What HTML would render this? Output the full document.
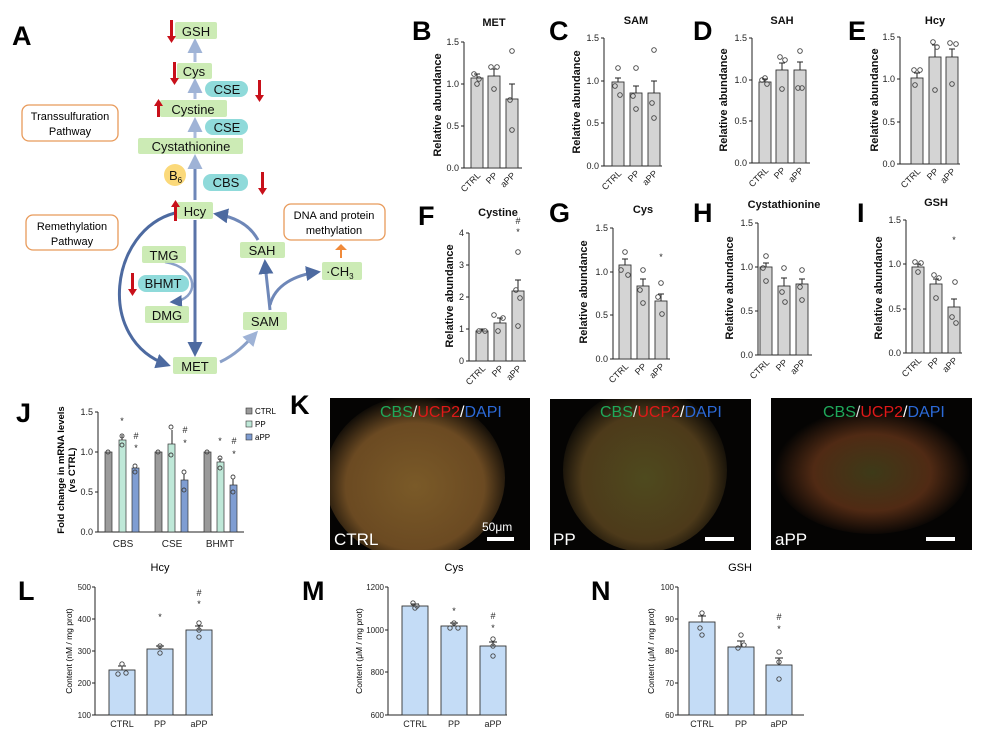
<!DOCTYPE html><html><head><meta charset="utf-8"><style>
body{margin:0;background:#fff}
svg{display:block;font-family:"Liberation Sans",sans-serif}
.t{font-size:9px;fill:#222}
.yl{font-size:11px;font-weight:bold;fill:#111}
.ti{font-size:11px;font-weight:bold;fill:#111}
.L{font-size:27px;font-weight:bold;fill:#000}
.bar{fill:#d4d4d4;stroke:#333;stroke-width:.9}
.ax{stroke:#222;stroke-width:1;fill:none}
.d{fill:none;stroke:#444;stroke-width:.9}
.gb{fill:#c3e8a8;opacity:.85}
.cb{fill:#8fdada}
.nd{font-size:13px;fill:#111}
.bb{fill:#c4dcf6;stroke:#333;stroke-width:.9}
</style></head><body>
<svg width="984" height="733" viewBox="0 0 984 733">
<defs>
<marker id="ah" viewBox="0 0 10 10" refX="8" refY="5" markerWidth="5" markerHeight="5" orient="auto"><path d="M0,0L10,5L0,10z" fill="#4d6aa0"/></marker>
<marker id="ahl" viewBox="0 0 10 10" refX="8" refY="5" markerWidth="5" markerHeight="5" orient="auto"><path d="M0,0L10,5L0,10z" fill="#9fb3d6"/></marker>
<radialGradient id="k1" cx="50%" cy="55%" r="55%"><stop offset="0" stop-color="#7a5a28"/><stop offset=".7" stop-color="#6b4a22"/><stop offset="1" stop-color="#0a0805"/></radialGradient>
<radialGradient id="k2" cx="50%" cy="55%" r="55%"><stop offset="0" stop-color="#4e4a1e"/><stop offset=".7" stop-color="#4d3a1a"/><stop offset="1" stop-color="#070604"/></radialGradient>
<radialGradient id="k3" cx="50%" cy="52%" r="50%"><stop offset="0" stop-color="#3d3a18"/><stop offset=".6" stop-color="#502a14"/><stop offset="1" stop-color="#050403"/></radialGradient>
<clipPath id="c1"><rect x="330" y="398" width="200" height="152"/></clipPath>
<clipPath id="c2"><rect x="550" y="399" width="201" height="151"/></clipPath>
<clipPath id="c3"><rect x="771" y="398" width="201" height="152"/></clipPath>
</defs>

<!-- Panel A -->
<text x="12" y="45" class="L">A</text>
<rect x="22" y="105" width="96" height="36" rx="7" fill="#fff" stroke="#e89a5a" stroke-width="1.3"/>
<text x="70" y="120" text-anchor="middle" style="font-size:11px">Transsulfuration</text>
<text x="70" y="135" text-anchor="middle" style="font-size:11px">Pathway</text>
<rect x="26" y="215" width="92" height="35" rx="7" fill="#fff" stroke="#e89a5a" stroke-width="1.3"/>
<text x="72" y="230" text-anchor="middle" style="font-size:11px">Remethylation</text>
<text x="72" y="245" text-anchor="middle" style="font-size:11px">Pathway</text>
<rect x="284" y="204" width="101" height="36" rx="7" fill="#fff" stroke="#e89a5a" stroke-width="1.3"/>
<text x="334" y="219" text-anchor="middle" style="font-size:11px">DNA and protein</text>
<text x="334" y="234" text-anchor="middle" style="font-size:11px">methylation</text>
<path d="M340 258 L340 250 L335 250 L341 244 L347 250 L342 250 L342 258Z" fill="#f08a3a"/>
<line x1="195" y1="200" x2="195" y2="157" stroke="#6e87b8" stroke-width="3" marker-end="url(#ahl)"/>
<line x1="195" y1="138" x2="195" y2="120" stroke="#a9badb" stroke-width="3" marker-end="url(#ahl)"/>
<line x1="195" y1="99" x2="195" y2="81" stroke="#a9badb" stroke-width="3" marker-end="url(#ahl)"/>
<line x1="195" y1="62" x2="195" y2="41" stroke="#a9badb" stroke-width="3" marker-end="url(#ahl)"/>
<line x1="195" y1="220" x2="195" y2="354" stroke="#5a73a8" stroke-width="3" marker-end="url(#ah)"/>
<path d="M175 213 C110 230 95 340 168 365" stroke="#4d6aa0" stroke-width="3" fill="none" marker-end="url(#ah)"/>
<path d="M165 262 C200 268 200 300 172 302" stroke="#8aa0c8" stroke-width="2.5" fill="none" marker-end="url(#ah)"/>
<path d="M220 362 C235 355 245 345 256 333" stroke="#8aa0c8" stroke-width="3" fill="none" marker-end="url(#ahl)"/>
<path d="M270 310 C268 290 266 275 265 262" stroke="#6e87b8" stroke-width="3" fill="none" marker-end="url(#ah)"/>
<path d="M270 305 C275 285 295 275 318 272" stroke="#6e87b8" stroke-width="3" fill="none" marker-end="url(#ah)"/>
<path d="M258 240 C250 225 235 217 216 214" stroke="#6e87b8" stroke-width="3" fill="none" marker-end="url(#ah)"/>
<rect x="175" y="22" width="42" height="17" rx="2" class="gb"/><text x="196" y="36" text-anchor="middle" class="nd">GSH</text>
<rect x="177" y="63" width="35" height="16" rx="2" class="gb"/><text x="194" y="76" text-anchor="middle" class="nd">Cys</text>
<rect x="205" y="81" width="43" height="16" rx="8" class="cb"/><text x="227" y="94" text-anchor="middle" class="nd">CSE</text>
<rect x="160" y="100" width="67" height="17" rx="2" class="gb"/><text x="193" y="114" text-anchor="middle" class="nd">Cystine</text>
<rect x="205" y="119" width="43" height="16" rx="8" class="cb"/><text x="227" y="132" text-anchor="middle" class="nd">CSE</text>
<rect x="138" y="138" width="105" height="16" rx="2" class="gb"/><text x="191" y="151" text-anchor="middle" class="nd">Cystathionine</text>
<circle cx="175" cy="175" r="11" fill="#fbd97a"/><text x="169" y="180" class="nd">B<tspan style="font-size:8px" dy="3">6</tspan></text>
<rect x="203" y="174" width="45" height="17" rx="8" class="cb"/><text x="226" y="187" text-anchor="middle" class="nd">CBS</text>
<rect x="177" y="202" width="36" height="17" rx="2" class="gb"/><text x="195" y="216" text-anchor="middle" class="nd">Hcy</text>
<rect x="142" y="246" width="44" height="17" rx="2" class="gb"/><text x="164" y="260" text-anchor="middle" class="nd">TMG</text>
<rect x="138" y="275" width="51" height="17" rx="8" class="cb"/><text x="163" y="288" text-anchor="middle" class="nd">BHMT</text>
<rect x="145" y="306" width="44" height="17" rx="2" class="gb"/><text x="167" y="320" text-anchor="middle" class="nd">DMG</text>
<rect x="173" y="357" width="44" height="17" rx="2" class="gb"/><text x="195" y="371" text-anchor="middle" class="nd">MET</text>
<rect x="243" y="312" width="44" height="18" rx="2" class="gb"/><text x="265" y="326" text-anchor="middle" class="nd">SAM</text>
<rect x="240" y="242" width="45" height="16" rx="2" class="gb"/><text x="262" y="255" text-anchor="middle" class="nd">SAH</text>
<rect x="322" y="262" width="40" height="18" rx="2" class="gb"/><text x="326" y="276" class="nd">·CH<tspan style="font-size:8px" dy="3">3</tspan></text>
<g fill="#c8101a">
<path d="M170 20h3v16h3l-4.5 7-4.5-7h3z"/>
<path d="M173 62h3v16h3l-4.5 7-4.5-7h3z"/>
<path d="M258 80h3v15h3l-4.5 7-4.5-7h3z"/>
<path d="M157 117h3v-11h3l-4.5-7-4.5 7h3z"/>
<path d="M261 172h3v16h3l-4.5 7-4.5-7h3z"/>
<path d="M174 221h3v-14h3l-4.5-7-4.5 7h3z"/>
<path d="M131 273h3v16h3l-4.5 7-4.5-7h3z"/>
</g>

<!-- B -->
<text x="412" y="40" class="L">B</text><text x="494" y="26" class="ti" text-anchor="middle">MET</text>
<g><line x1="464" y1="42" x2="464" y2="168" class="ax"/><line x1="464" y1="168" x2="522" y2="168" class="ax"/>
<path d="M461 168h3M461 126h3M461 84h3M461 42h3" class="ax"/>
<text x="459" y="171" class="t" text-anchor="end">0.0</text><text x="459" y="129" class="t" text-anchor="end">0.5</text><text x="459" y="87" class="t" text-anchor="end">1.0</text><text x="459" y="45" class="t" text-anchor="end">1.5</text>
<text transform="translate(441 105) rotate(-90)" class="yl" text-anchor="middle">Relative abundance</text>
<rect x="471" y="78" width="12" height="90" class="bar"/><rect x="488" y="76" width="12" height="92" class="bar"/><rect x="506" y="99" width="12" height="69" class="bar"/>
<path d="M477 78v-4M474 74h6M494 76v-7M491 69h6M512 99v-15M509 84h6" class="ax"/>
<g class="d"><circle cx="474" cy="74" r="2.3"/><circle cx="479" cy="79" r="2.3"/><circle cx="477" cy="84" r="2.3"/><circle cx="491" cy="67" r="2.3"/><circle cx="497" cy="67" r="2.3"/><circle cx="494" cy="89" r="2.3"/><circle cx="512" cy="51" r="2.3"/><circle cx="510" cy="100" r="2.3"/><circle cx="512" cy="130" r="2.3"/></g>
<text transform="translate(481 176) rotate(-45)" class="t" text-anchor="end">CTRL</text><text transform="translate(498 176) rotate(-45)" class="t" text-anchor="end">PP</text><text transform="translate(516 176) rotate(-45)" class="t" text-anchor="end">aPP</text></g>

<!-- C -->
<text x="549" y="40" class="L">C</text><text x="636" y="24" class="ti" text-anchor="middle">SAM</text>
<g><line x1="604" y1="38" x2="604" y2="166" class="ax"/><line x1="604" y1="166" x2="662" y2="166" class="ax"/>
<path d="M601 166h3M601 123h3M601 81h3M601 38h3" class="ax"/>
<text x="599" y="169" class="t" text-anchor="end">0.0</text><text x="599" y="126" class="t" text-anchor="end">0.5</text><text x="599" y="84" class="t" text-anchor="end">1.0</text><text x="599" y="41" class="t" text-anchor="end">1.5</text>
<text transform="translate(580 102) rotate(-90)" class="yl" text-anchor="middle">Relative abundance</text>
<rect x="612" y="82" width="12" height="84" class="bar"/><rect x="630" y="93" width="12" height="73" class="bar"/><rect x="648" y="93" width="12" height="73" class="bar"/>
<path d="M618 82v-4M615 78h6M636 93v-7M633 86h6M654 93v-12M651 81h6" class="ax"/>
<g class="d"><circle cx="618" cy="68" r="2.3"/><circle cx="615" cy="86" r="2.3"/><circle cx="620" cy="95" r="2.3"/><circle cx="636" cy="68" r="2.3"/><circle cx="633" cy="96" r="2.3"/><circle cx="636" cy="109" r="2.3"/><circle cx="654" cy="50" r="2.3"/><circle cx="652" cy="103" r="2.3"/><circle cx="654" cy="118" r="2.3"/></g>
<text transform="translate(622 174) rotate(-45)" class="t" text-anchor="end">CTRL</text><text transform="translate(640 174) rotate(-45)" class="t" text-anchor="end">PP</text><text transform="translate(658 174) rotate(-45)" class="t" text-anchor="end">aPP</text></g>

<!-- D -->
<text x="693" y="40" class="L">D</text><text x="782" y="24" class="ti" text-anchor="middle">SAH</text>
<g><line x1="752" y1="38" x2="752" y2="163" class="ax"/><line x1="752" y1="163" x2="810" y2="163" class="ax"/>
<path d="M749 163h3M749 121h3M749 80h3M749 38h3" class="ax"/>
<text x="747" y="166" class="t" text-anchor="end">0.0</text><text x="747" y="124" class="t" text-anchor="end">0.5</text><text x="747" y="83" class="t" text-anchor="end">1.0</text><text x="747" y="41" class="t" text-anchor="end">1.5</text>
<text transform="translate(727 100) rotate(-90)" class="yl" text-anchor="middle">Relative abundance</text>
<rect x="759" y="82" width="12" height="81" class="bar"/><rect x="776" y="70" width="12" height="93" class="bar"/><rect x="794" y="70" width="12" height="93" class="bar"/>
<path d="M765 82v-3M762 79h6M782 70v-7M779 63h6M800 70v-8M797 62h6" class="ax"/>
<g class="d"><circle cx="762" cy="80" r="2.3"/><circle cx="767" cy="84" r="2.3"/><circle cx="765" cy="78" r="2.3"/><circle cx="780" cy="57" r="2.3"/><circle cx="785" cy="60" r="2.3"/><circle cx="782" cy="89" r="2.3"/><circle cx="800" cy="51" r="2.3"/><circle cx="798" cy="88" r="2.3"/><circle cx="802" cy="88" r="2.3"/></g>
<text transform="translate(769 171) rotate(-45)" class="t" text-anchor="end">CTRL</text><text transform="translate(786 171) rotate(-45)" class="t" text-anchor="end">PP</text><text transform="translate(804 171) rotate(-45)" class="t" text-anchor="end">aPP</text></g>

<!-- E -->
<text x="848" y="40" class="L">E</text><text x="935" y="24" class="ti" text-anchor="middle">Hcy</text>
<g><line x1="900" y1="37" x2="900" y2="164" class="ax"/><line x1="900" y1="164" x2="960" y2="164" class="ax"/>
<path d="M897 164h3M897 122h3M897 79h3M897 37h3" class="ax"/>
<text x="895" y="167" class="t" text-anchor="end">0.0</text><text x="895" y="125" class="t" text-anchor="end">0.5</text><text x="895" y="82" class="t" text-anchor="end">1.0</text><text x="895" y="40" class="t" text-anchor="end">1.5</text>
<text transform="translate(878 100) rotate(-90)" class="yl" text-anchor="middle">Relative abundance</text>
<rect x="911" y="78" width="12" height="86" class="bar"/><rect x="929" y="57" width="12" height="107" class="bar"/><rect x="946" y="57" width="12" height="107" class="bar"/>
<path d="M917 78v-5M914 73h6M935 57v-12M932 45h6M952 57v-8M949 49h6" class="ax"/>
<g class="d"><circle cx="914" cy="70" r="2.3"/><circle cx="920" cy="70" r="2.3"/><circle cx="915" cy="85" r="2.3"/><circle cx="933" cy="42" r="2.3"/><circle cx="937" cy="47" r="2.3"/><circle cx="935" cy="90" r="2.3"/><circle cx="950" cy="43" r="2.3"/><circle cx="956" cy="44" r="2.3"/><circle cx="952" cy="84" r="2.3"/></g>
<text transform="translate(921 172) rotate(-45)" class="t" text-anchor="end">CTRL</text><text transform="translate(939 172) rotate(-45)" class="t" text-anchor="end">PP</text><text transform="translate(956 172) rotate(-45)" class="t" text-anchor="end">aPP</text></g>

<!-- F -->
<text x="418" y="225" class="L">F</text><text x="498" y="216" class="ti" text-anchor="middle">Cystine</text>
<g><line x1="469" y1="233" x2="469" y2="361" class="ax"/><line x1="469" y1="361" x2="526" y2="361" class="ax"/>
<path d="M466 361h3M466 329h3M466 297h3M466 265h3M466 233h3" class="ax"/>
<text x="464" y="364" class="t" text-anchor="end">0</text><text x="464" y="332" class="t" text-anchor="end">1</text><text x="464" y="300" class="t" text-anchor="end">2</text><text x="464" y="268" class="t" text-anchor="end">3</text><text x="464" y="236" class="t" text-anchor="end">4</text>
<text transform="translate(453 296) rotate(-90)" class="yl" text-anchor="middle">Relative abundance</text>
<rect x="476" y="331" width="12" height="30" class="bar"/><rect x="494" y="323" width="12" height="38" class="bar"/><rect x="512" y="291" width="12" height="70" class="bar"/>
<path d="M482 331v-2M479 329h6M500 323v-5M497 318h6M518 291v-11M515 280h6" class="ax"/>
<g class="d"><circle cx="479" cy="331" r="2.3"/><circle cx="485" cy="331" r="2.3"/><circle cx="494" cy="315" r="2.3"/><circle cx="503" cy="318" r="2.3"/><circle cx="498" cy="331" r="2.3"/><circle cx="518" cy="252" r="2.3"/><circle cx="516" cy="290" r="2.3"/><circle cx="520" cy="298" r="2.3"/><circle cx="518" cy="326" r="2.3"/></g>
<text x="518" y="224" class="t" text-anchor="middle">#</text><text x="518" y="235" class="t" text-anchor="middle">*</text>
<text transform="translate(486 369) rotate(-45)" class="t" text-anchor="end">CTRL</text><text transform="translate(504 369) rotate(-45)" class="t" text-anchor="end">PP</text><text transform="translate(522 369) rotate(-45)" class="t" text-anchor="end">aPP</text></g>

<!-- G -->
<text x="549" y="222" class="L">G</text><text x="643" y="213" class="ti" text-anchor="middle">Cys</text>
<g><line x1="613" y1="228" x2="613" y2="359" class="ax"/><line x1="613" y1="359" x2="670" y2="359" class="ax"/>
<path d="M610 359h3M610 315h3M610 272h3M610 228h3" class="ax"/>
<text x="608" y="362" class="t" text-anchor="end">0.0</text><text x="608" y="318" class="t" text-anchor="end">0.5</text><text x="608" y="275" class="t" text-anchor="end">1.0</text><text x="608" y="231" class="t" text-anchor="end">1.5</text>
<text transform="translate(587 292) rotate(-90)" class="yl" text-anchor="middle">Relative abundance</text>
<rect x="619" y="265" width="12" height="94" class="bar"/><rect x="637" y="286" width="12" height="73" class="bar"/><rect x="655" y="301" width="12" height="58" class="bar"/>
<path d="M625 265v-6M622 259h6M643 286v-7M640 279h6M661 301v-7M658 294h6" class="ax"/>
<g class="d"><circle cx="625" cy="252" r="2.3"/><circle cx="621" cy="270" r="2.3"/><circle cx="628" cy="275" r="2.3"/><circle cx="643" cy="270" r="2.3"/><circle cx="640" cy="290" r="2.3"/><circle cx="643" cy="303" r="2.3"/><circle cx="661" cy="283" r="2.3"/><circle cx="658" cy="297" r="2.3"/><circle cx="662" cy="314" r="2.3"/></g>
<text x="661" y="260" class="t" text-anchor="middle">*</text>
<text transform="translate(629 367) rotate(-45)" class="t" text-anchor="end">CTRL</text><text transform="translate(647 367) rotate(-45)" class="t" text-anchor="end">PP</text><text transform="translate(665 367) rotate(-45)" class="t" text-anchor="end">aPP</text></g>

<!-- H -->
<text x="693" y="222" class="L">H</text><text x="784" y="208" class="ti" text-anchor="middle">Cystathionine</text>
<g><line x1="758" y1="223" x2="758" y2="355" class="ax"/><line x1="758" y1="355" x2="812" y2="355" class="ax"/>
<path d="M755 355h3M755 311h3M755 267h3M755 223h3" class="ax"/>
<text x="753" y="358" class="t" text-anchor="end">0.0</text><text x="753" y="314" class="t" text-anchor="end">0.5</text><text x="753" y="270" class="t" text-anchor="end">1.0</text><text x="753" y="226" class="t" text-anchor="end">1.5</text>
<text transform="translate(733 288) rotate(-90)" class="yl" text-anchor="middle">Relative abundance</text>
<rect x="760" y="267" width="12" height="88" class="bar"/><rect x="778" y="286" width="12" height="69" class="bar"/><rect x="796" y="284" width="12" height="71" class="bar"/>
<path d="M766 267v-4M763 263h6M784 286v-8M781 278h6M802 284v-5M799 279h6" class="ax"/>
<g class="d"><circle cx="766" cy="256" r="2.3"/><circle cx="763" cy="268" r="2.3"/><circle cx="766" cy="281" r="2.3"/><circle cx="784" cy="268" r="2.3"/><circle cx="782" cy="292" r="2.3"/><circle cx="785" cy="302" r="2.3"/><circle cx="802" cy="270" r="2.3"/><circle cx="800" cy="287" r="2.3"/><circle cx="802" cy="300" r="2.3"/></g>
<text transform="translate(770 363) rotate(-45)" class="t" text-anchor="end">CTRL</text><text transform="translate(788 363) rotate(-45)" class="t" text-anchor="end">PP</text><text transform="translate(806 363) rotate(-45)" class="t" text-anchor="end">aPP</text></g>

<!-- I -->
<text x="857" y="222" class="L">I</text><text x="936" y="206" class="ti" text-anchor="middle">GSH</text>
<g><line x1="906" y1="220" x2="906" y2="353" class="ax"/><line x1="906" y1="353" x2="962" y2="353" class="ax"/>
<path d="M903 353h3M903 309h3M903 264h3M903 220h3" class="ax"/>
<text x="901" y="356" class="t" text-anchor="end">0.0</text><text x="901" y="312" class="t" text-anchor="end">0.5</text><text x="901" y="267" class="t" text-anchor="end">1.0</text><text x="901" y="223" class="t" text-anchor="end">1.5</text>
<text transform="translate(882 288) rotate(-90)" class="yl" text-anchor="middle">Relative abundance</text>
<rect x="912" y="267" width="12" height="86" class="bar"/><rect x="930" y="284" width="12" height="69" class="bar"/><rect x="948" y="307" width="12" height="46" class="bar"/>
<path d="M918 267v-3M915 264h6M936 284v-5M933 279h6M954 307v-8M951 299h6" class="ax"/>
<g class="d"><circle cx="915" cy="262" r="2.3"/><circle cx="921" cy="263" r="2.3"/><circle cx="918" cy="272" r="2.3"/><circle cx="934" cy="275" r="2.3"/><circle cx="939" cy="278" r="2.3"/><circle cx="936" cy="298" r="2.3"/><circle cx="955" cy="282" r="2.3"/><circle cx="952" cy="317" r="2.3"/><circle cx="956" cy="323" r="2.3"/></g>
<text x="954" y="243" class="t" text-anchor="middle">*</text>
<text transform="translate(922 361) rotate(-45)" class="t" text-anchor="end">CTRL</text><text transform="translate(940 361) rotate(-45)" class="t" text-anchor="end">PP</text><text transform="translate(958 361) rotate(-45)" class="t" text-anchor="end">aPP</text></g>

<!-- J -->
<text x="16" y="422" class="L">J</text>
<g><line x1="98" y1="412" x2="98" y2="532" class="ax"/><line x1="98" y1="532" x2="244" y2="532" class="ax"/>
<path d="M95 532h3M95 492h3M95 452h3M95 412h3" class="ax"/>
<text x="93" y="535" class="t" text-anchor="end">0.0</text><text x="93" y="495" class="t" text-anchor="end">0.5</text><text x="93" y="455" class="t" text-anchor="end">1.0</text><text x="93" y="415" class="t" text-anchor="end">1.5</text>
<text transform="translate(64 470) rotate(-90)" style="font-size:9.5px;font-weight:bold" text-anchor="middle">Fold change in mRNA levels</text>
<text transform="translate(75 470) rotate(-90)" style="font-size:9.5px;font-weight:bold" text-anchor="middle">(vs CTRL)</text>
<g stroke="#333" stroke-width=".7">
<rect x="105" y="452" width="7" height="80" fill="#9a9a9a"/><rect x="119" y="440" width="7" height="92" fill="#bfe8d8"/><rect x="132" y="468" width="7" height="64" fill="#7f9dd2"/>
<rect x="155" y="452" width="7" height="80" fill="#9a9a9a"/><rect x="168" y="444" width="7" height="88" fill="#bfe8d8"/><rect x="181" y="480" width="7" height="52" fill="#7f9dd2"/>
<rect x="204" y="452" width="7" height="80" fill="#9a9a9a"/><rect x="217" y="462" width="7" height="70" fill="#bfe8d8"/><rect x="230" y="485" width="7" height="47" fill="#7f9dd2"/>
</g>
<path d="M122 440v-5M172 444v-14M220 462v-4M233 485v-6M184 480v-6" class="ax"/>
<g class="d"><circle cx="108" cy="452" r="2"/><circle cx="122" cy="436" r="2"/><circle cx="122" cy="445" r="2"/><circle cx="135" cy="466" r="2"/><circle cx="135" cy="472" r="2"/><circle cx="158" cy="452" r="2"/><circle cx="171" cy="427" r="2"/><circle cx="171" cy="455" r="2"/><circle cx="184" cy="472" r="2"/><circle cx="184" cy="490" r="2"/><circle cx="207" cy="452" r="2"/><circle cx="220" cy="458" r="2"/><circle cx="220" cy="468" r="2"/><circle cx="233" cy="477" r="2"/><circle cx="233" cy="492" r="2"/></g>
<g class="t" text-anchor="middle"><text x="122" y="424">*</text><text x="136" y="439">#</text><text x="136" y="451">*</text><text x="185" y="433">#</text><text x="185" y="446">*</text><text x="220" y="444">*</text><text x="234" y="444">#</text><text x="234" y="457">*</text></g>
<text x="123" y="547" class="t" text-anchor="middle" style="font-size:10px">CBS</text><text x="172" y="547" class="t" text-anchor="middle" style="font-size:10px">CSE</text><text x="220" y="547" class="t" text-anchor="middle" style="font-size:10px">BHMT</text>
<rect x="246" y="408" width="6" height="6" fill="#9a9a9a" stroke="#333" stroke-width=".6"/><text x="255" y="414" style="font-size:8px">CTRL</text>
<rect x="246" y="421" width="6" height="6" fill="#bfe8d8" stroke="#333" stroke-width=".6"/><text x="255" y="427" style="font-size:8px">PP</text>
<rect x="246" y="434" width="6" height="6" fill="#7f9dd2" stroke="#333" stroke-width=".6"/><text x="255" y="440" style="font-size:8px">aPP</text></g>

<!-- K -->
<text x="290" y="414" class="L">K</text>
<rect x="330" y="398" width="200" height="152" fill="#050403"/>
<g clip-path="url(#c1)"><ellipse cx="415" cy="478" rx="90" ry="82" fill="url(#k1)"/></g>
<rect x="550" y="399" width="201" height="151" fill="#050403"/>
<g clip-path="url(#c2)"><ellipse cx="645" cy="470" rx="82" ry="82" fill="url(#k2)"/></g>
<rect x="771" y="398" width="201" height="152" fill="#050403"/>
<g clip-path="url(#c3)"><ellipse cx="872" cy="470" rx="98" ry="64" fill="url(#k3)"/></g>
<g style="font-size:16px"><text x="380" y="417"><tspan fill="#1fa85a">CBS</tspan><tspan fill="#ddd">/</tspan><tspan fill="#e01818">UCP2</tspan><tspan fill="#fff">/</tspan><tspan fill="#2c6ad8">DAPI</tspan></text>
<text x="600" y="417"><tspan fill="#1fa85a">CBS</tspan><tspan fill="#ddd">/</tspan><tspan fill="#e01818">UCP2</tspan><tspan fill="#fff">/</tspan><tspan fill="#2c6ad8">DAPI</tspan></text>
<text x="823" y="417"><tspan fill="#1fa85a">CBS</tspan><tspan fill="#ddd">/</tspan><tspan fill="#e01818">UCP2</tspan><tspan fill="#fff">/</tspan><tspan fill="#2c6ad8">DAPI</tspan></text>
<text x="334" y="545" fill="#fff" style="font-size:17px">CTRL</text><text x="553" y="545" fill="#fff" style="font-size:17px">PP</text><text x="775" y="545" fill="#fff" style="font-size:17px">aPP</text>
<text x="482" y="531" fill="#fff" style="font-size:12px">50μm</text></g>
<rect x="487" y="537" width="27" height="4" fill="#fff"/><rect x="705" y="537" width="29" height="4" fill="#fff"/><rect x="926" y="537" width="29" height="4" fill="#fff"/>

<!-- L -->
<text x="18" y="600" class="L">L</text><text x="160" y="571" text-anchor="middle" style="font-size:11px">Hcy</text>
<g><line x1="95" y1="587" x2="95" y2="715" class="ax"/><line x1="95" y1="715" x2="213" y2="715" class="ax"/>
<path d="M92 715h3M92 683h3M92 651h3M92 619h3M92 587h3" class="ax"/>
<g class="t" text-anchor="end" style="font-size:8px"><text x="91" y="718">100</text><text x="91" y="686">200</text><text x="91" y="654">300</text><text x="91" y="622">400</text><text x="91" y="590">500</text></g>
<text transform="translate(72 651) rotate(-90)" style="font-size:8.5px" text-anchor="middle">Content (nM / mg prot)</text>
<rect x="109" y="670" width="26" height="45" class="bb"/><rect x="147" y="649" width="26" height="66" class="bb"/><rect x="186" y="630" width="26" height="85" class="bb"/>
<path d="M122 670v-4M118 666h8M160 649v-3M156 646h8M199 630v-4M195 626h8" class="ax"/>
<g class="d"><circle cx="122" cy="664" r="2.2"/><circle cx="118" cy="674" r="2.2"/><circle cx="126" cy="673" r="2.2"/><circle cx="160" cy="646" r="2.2"/><circle cx="160" cy="653" r="2.2"/><circle cx="199" cy="623" r="2.2"/><circle cx="199" cy="630" r="2.2"/><circle cx="199" cy="637" r="2.2"/></g>
<g class="t" text-anchor="middle"><text x="160" y="620">*</text><text x="199" y="596">#</text><text x="199" y="607">*</text></g>
<g class="t" text-anchor="middle" style="font-size:9px"><text x="122" y="727">CTRL</text><text x="160" y="727">PP</text><text x="199" y="727">aPP</text></g></g>

<!-- M -->
<text x="302" y="600" class="L">M</text><text x="454" y="571" text-anchor="middle" style="font-size:11px">Cys</text>
<g><line x1="388" y1="587" x2="388" y2="715" class="ax"/><line x1="388" y1="715" x2="507" y2="715" class="ax"/>
<path d="M385 715h3M385 672h3M385 630h3M385 587h3" class="ax"/>
<g class="t" text-anchor="end" style="font-size:8px"><text x="384" y="718">600</text><text x="384" y="675">800</text><text x="384" y="633">1000</text><text x="384" y="590">1200</text></g>
<text transform="translate(362 651) rotate(-90)" style="font-size:8.5px" text-anchor="middle">Content (μM / mg prot)</text>
<rect x="402" y="606" width="26" height="109" class="bb"/><rect x="441" y="626" width="26" height="89" class="bb"/><rect x="480" y="646" width="26" height="69" class="bb"/>
<path d="M415 606v-2M411 604h8M454 626v-3M450 623h8M493 646v-4M489 642h8" class="ax"/>
<g class="d"><circle cx="413" cy="603" r="2.2"/><circle cx="417" cy="606" r="2.2"/><circle cx="415" cy="608" r="2.2"/><circle cx="454" cy="623" r="2.2"/><circle cx="450" cy="628" r="2.2"/><circle cx="458" cy="628" r="2.2"/><circle cx="493" cy="639" r="2.2"/><circle cx="493" cy="646" r="2.2"/><circle cx="493" cy="656" r="2.2"/></g>
<g class="t" text-anchor="middle"><text x="454" y="614">*</text><text x="493" y="619">#</text><text x="493" y="631">*</text></g>
<g class="t" text-anchor="middle" style="font-size:9px"><text x="415" y="727">CTRL</text><text x="454" y="727">PP</text><text x="493" y="727">aPP</text></g></g>

<!-- N -->
<text x="591" y="600" class="L">N</text><text x="740" y="571" text-anchor="middle" style="font-size:11px">GSH</text>
<g><line x1="678" y1="587" x2="678" y2="715" class="ax"/><line x1="678" y1="715" x2="804" y2="715" class="ax"/>
<path d="M675 715h3M675 683h3M675 651h3M675 619h3M675 587h3" class="ax"/>
<g class="t" text-anchor="end" style="font-size:8px"><text x="674" y="718">60</text><text x="674" y="686">70</text><text x="674" y="654">80</text><text x="674" y="622">90</text><text x="674" y="590">100</text></g>
<text transform="translate(654 651) rotate(-90)" style="font-size:8.5px" text-anchor="middle">Content (μM / mg prot)</text>
<rect x="689" y="622" width="26" height="93" class="bb"/><rect x="728" y="647" width="26" height="68" class="bb"/><rect x="766" y="665" width="26" height="50" class="bb"/>
<path d="M702 622v-6M698 616h8M741 647v-6M737 641h8M779 665v-7M775 658h8" class="ax"/>
<g class="d"><circle cx="702" cy="613" r="2.2"/><circle cx="700" cy="628" r="2.2"/><circle cx="702" cy="635" r="2.2"/><circle cx="741" cy="635" r="2.2"/><circle cx="738" cy="648" r="2.2"/><circle cx="744" cy="645" r="2.2"/><circle cx="779" cy="652" r="2.2"/><circle cx="779" cy="662" r="2.2"/><circle cx="779" cy="679" r="2.2"/></g>
<g class="t" text-anchor="middle"><text x="779" y="620">#</text><text x="779" y="632">*</text></g>
<g class="t" text-anchor="middle" style="font-size:9px"><text x="702" y="727">CTRL</text><text x="741" y="727">PP</text><text x="779" y="727">aPP</text></g></g>
</svg>
</body></html>
